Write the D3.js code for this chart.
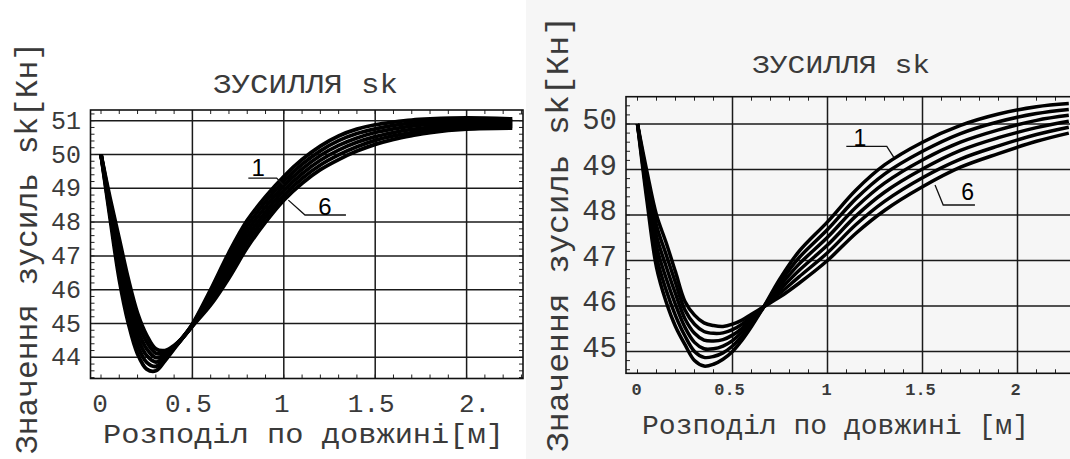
<!DOCTYPE html>
<html>
<head>
<meta charset="utf-8">
<script src="https://cdn.jsdelivr.net/npm/d3@7"></script>
<style>
  html, body { margin: 0; padding: 0; background: #fff; }
  svg { display: block; }
  text { font-family: "Liberation Mono", "DejaVu Sans Mono", monospace; fill: #3a3a3a; }
  text.num { font-family: "Liberation Sans", Arial, sans-serif; fill: #000; }
</style>
</head>
<body>
<div id="chart"></div>
<script>
// ---- data ----
const TITLE = "ЗУСИЛЛЯ sk"
const Y_LABEL = "Значення зусиль sk[Кн]"
const X_LABEL_A = "Розподіл по довжині[м]"
const X_LABEL_B = "Розподіл по довжині [м]"

// left chart: 6 curves sampled at leftX
const leftX = [0, 0.05, 0.1, 0.15, 0.2, 0.25, 0.3, 0.35, 0.4, 0.45, 0.5, 0.6, 0.7, 0.8, 0.9, 1.0, 1.1, 1.2, 1.3, 1.4, 1.5, 1.6, 1.7, 1.8, 2.0, 2.25]
const leftC1 = [50, 48.1, 46.3, 45.0, 44.1, 43.65, 43.6, 43.9, 44.25, 44.6, 44.98, 46.0, 47.1, 48.05, 48.75, 49.35, 49.85, 50.25, 50.55, 50.75, 50.88, 50.96, 51.02, 51.05, 51.08, 51.05]
const leftC2 = [50, 48.22, 46.54, 45.26, 44.34, 43.85, 43.73, 43.96, 44.27, 44.6, 44.97, 45.91, 46.95, 47.89, 48.6, 49.21, 49.71, 50.11, 50.41, 50.62, 50.76, 50.86, 50.93, 50.97, 51.01, 51.0]
const leftC3 = [50, 48.34, 46.78, 45.52, 44.58, 44.05, 43.86, 44.02, 44.29, 44.6, 44.96, 45.82, 46.8, 47.73, 48.45, 49.07, 49.57, 49.97, 50.27, 50.49, 50.65, 50.76, 50.84, 50.89, 50.95, 50.94]
const leftC4 = [50, 48.46, 47.02, 45.78, 44.82, 44.25, 43.99, 44.08, 44.31, 44.6, 44.94, 45.73, 46.65, 47.57, 48.3, 48.93, 49.43, 49.83, 50.13, 50.36, 50.53, 50.65, 50.74, 50.81, 50.88, 50.89]
const leftC5 = [50, 48.58, 47.26, 46.04, 45.06, 44.45, 44.12, 44.14, 44.33, 44.6, 44.93, 45.64, 46.5, 47.41, 48.15, 48.79, 49.29, 49.69, 49.99, 50.23, 50.42, 50.55, 50.65, 50.73, 50.82, 50.83]
const leftC6 = [50, 48.7, 47.5, 46.3, 45.3, 44.65, 44.25, 44.2, 44.35, 44.6, 44.92, 45.55, 46.35, 47.25, 48.0, 48.65, 49.15, 49.55, 49.85, 50.1, 50.3, 50.45, 50.56, 50.65, 50.75, 50.78]

// right chart: 6 curves sampled at rightX
const rightX = [0, 0.05, 0.1, 0.15, 0.2, 0.25, 0.3, 0.35, 0.4, 0.45, 0.5, 0.55, 0.6, 0.66, 0.75, 0.85, 1.0, 1.15, 1.3, 1.5, 1.7, 1.9, 2.1, 2.27]
const rightC1 = [50, 48.3, 46.85, 46.1, 45.55, 45.15, 44.8, 44.68, 44.72, 44.83, 45.0, 45.25, 45.55, 45.95, 46.6, 47.2, 47.85, 48.55, 49.1, 49.6, 49.97, 50.22, 50.38, 50.45]
const rightC2 = [50, 48.43, 47.08, 46.36, 45.79, 45.34, 45.0, 44.87, 44.89, 44.97, 45.12, 45.34, 45.6, 45.95, 46.52, 47.06, 47.68, 48.36, 48.9, 49.4, 49.79, 50.05, 50.23, 50.32]
const rightC3 = [50, 48.56, 47.31, 46.62, 46.03, 45.53, 45.2, 45.06, 45.06, 45.12, 45.24, 45.43, 45.66, 45.96, 46.44, 46.92, 47.51, 48.17, 48.7, 49.21, 49.6, 49.87, 50.08, 50.19]
const rightC4 = [50, 48.69, 47.54, 46.88, 46.27, 45.72, 45.4, 45.25, 45.23, 45.26, 45.36, 45.51, 45.71, 45.96, 46.36, 46.78, 47.34, 47.98, 48.5, 49.01, 49.42, 49.7, 49.92, 50.06]
const rightC5 = [50, 48.82, 47.77, 47.14, 46.51, 45.91, 45.6, 45.44, 45.4, 45.41, 45.48, 45.6, 45.77, 45.97, 46.28, 46.64, 47.17, 47.79, 48.3, 48.82, 49.23, 49.52, 49.77, 49.93]
const rightC6 = [50, 48.95, 48.0, 47.4, 46.75, 46.1, 45.8, 45.63, 45.57, 45.55, 45.6, 45.69, 45.82, 45.97, 46.2, 46.5, 47.0, 47.6, 48.1, 48.62, 49.05, 49.35, 49.62, 49.8]

const leftYTicks = [44, 45, 46, 47, 48, 49, 50, 51]
const rightYTicks = [45, 46, 47, 48, 49, 50]
const xTicks = [0, 0.5, 1, 1.5, 2]
const leftXTickLabels = ["0", "0.5", "1", "1.5", "2."]
const rightXTickLabels = ["0", "0.5", "1", "1.5", "2"]

// curve labels with their leader lines, in data units
const leftNotes = [
  {text: "1", at: [0.86, 49.35], path: [[0.806, 49.3], [0.961, 49.3], [0.997, 49.1]]},
  {text: "6", at: [1.225, 48.2], path: [[1.34, 48.21], [1.116, 48.21], [1.025, 48.65]]}
]
const rightNotes = [
  {text: "1", at: [1.171, 49.52], path: [[1.099, 49.51], [1.312, 49.51], [1.35, 49.26]]},
  {text: "6", at: [1.737, 48.33], path: [[1.776, 48.22], [1.609, 48.22], [1.566, 48.66]]}
]

const W = 1070, H = 459

const svg = d3.select("#chart").append("svg")
  .attr("width", W)
  .attr("height", H)

// right picture has a slightly gray paper
svg.append("rect")
  .attr("x", 526).attr("y", 0)
  .attr("width", W - 526).attr("height", H)
  .attr("fill", "#f6f6f6")

function drawPanel(cfg, id) {
  const g = svg.append("g")
  const f = cfg.frame

  const x = d3.scaleLinear().domain([0, 2]).range(cfg.xRange)
  const y = d3.scaleLinear().domain(cfg.yDomain).range(cfg.yRange)

  // clip for curves
  svg.append("clipPath").attr("id", "clip" + id)
    .append("rect")
    .attr("x", f.left).attr("y", f.top)
    .attr("width", f.right - f.left).attr("height", f.bottom - f.top)

  // grid
  g.selectAll(".gx").data(xTicks.filter(d => d > 0))
    .enter().append("line")
    .attr("x1", d => x(d)).attr("x2", d => x(d))
    .attr("y1", f.top).attr("y2", f.bottom)
    .attr("stroke", "#1a1a1a").attr("stroke-width", cfg.gridW)

  g.selectAll(".gy").data(cfg.yTicks)
    .enter().append("line")
    .attr("x1", f.left).attr("x2", f.right)
    .attr("y1", d => y(d)).attr("y2", d => y(d))
    .attr("stroke", "#1a1a1a").attr("stroke-width", cfg.gridW)

  // minor ticks inside the frame
  const x0 = x.invert(f.left), x1 = x.invert(f.right)
  const xMinor = d3.range(Math.ceil(x0 * 10), Math.floor(x1 * 10) + 1).map(d => d / 10)
  const y0 = y.invert(f.bottom), y1 = y.invert(f.top)
  const yMinor = d3.range(Math.ceil(y0 * 5), Math.floor(y1 * 5) + 1).map(d => d / 5)
  const tk = 4
  xMinor.forEach(d => {
    g.append("line").attr("x1", x(d)).attr("x2", x(d)).attr("y1", f.top).attr("y2", f.top + tk)
      .attr("stroke", "#222").attr("stroke-width", 1)
    g.append("line").attr("x1", x(d)).attr("x2", x(d)).attr("y1", f.bottom).attr("y2", f.bottom - tk)
      .attr("stroke", "#222").attr("stroke-width", 1)
  })
  yMinor.forEach(d => {
    g.append("line").attr("x1", f.left).attr("x2", f.left + tk).attr("y1", y(d)).attr("y2", y(d))
      .attr("stroke", "#222").attr("stroke-width", 1)
    g.append("line").attr("x1", f.right).attr("x2", f.right - tk).attr("y1", y(d)).attr("y2", y(d))
      .attr("stroke", "#222").attr("stroke-width", 1)
  })

  // frame
  g.append("rect")
    .attr("x", f.left).attr("y", f.top)
    .attr("width", f.right - f.left).attr("height", f.bottom - f.top)
    .attr("fill", "none").attr("stroke", "#111").attr("stroke-width", cfg.frameW)

  // curves
  const line = d3.line()
    .x(d => x(d[0]))
    .y(d => y(d[1]))
    .curve(d3.curveCatmullRom.alpha(0.5))

  g.append("g").attr("clip-path", `url(#clip${id})`)
    .selectAll("path")
    .data(cfg.curves)
    .enter().append("path")
    .attr("d", c => line(cfg.xs.map((v, i) => [v, c[i]])))
    .attr("fill", "none")
    .attr("stroke", "#000")
    .attr("stroke-width", cfg.curveW)
    .attr("stroke-linejoin", "round")

  // curve notes
  cfg.notes.forEach(n => {
    g.append("path")
      .attr("d", d3.line().x(p => x(p[0])).y(p => y(p[1]))(n.path))
      .attr("fill", "none").attr("stroke", "#111").attr("stroke-width", 1.3)
    g.append("text").attr("class", "num")
      .attr("x", x(n.at[0])).attr("y", y(n.at[1]))
      .attr("text-anchor", "middle")
      .attr("font-size", cfg.noteSize)
      .text(n.text)
  })

  // y tick labels
  g.selectAll(".yl").data(cfg.yTicks)
    .enter().append("text")
    .attr("x", cfg.yTickX)
    .attr("y", d => y(d) + cfg.yTickDy)
    .attr("text-anchor", "end")
    .attr("font-size", cfg.yTickSize)
    .text(d => d)

  // x tick labels
  g.selectAll(".xl").data(xTicks)
    .enter().append("text")
    .attr("x", (d, i) => x(d) + cfg.xTickDx[i])
    .attr("y", cfg.xTickY)
    .attr("text-anchor", "middle")
    .attr("font-size", cfg.xTickSize)
    .attr("font-weight", cfg.xTickWeight)
    .text((d, i) => cfg.xTickLabels[i])

  // title
  g.append("text")
    .attr("x", cfg.title.x).attr("y", cfg.title.y)
    .attr("font-size", cfg.title.size)
    .attr("textLength", cfg.title.len)
    .attr("lengthAdjust", "spacingAndGlyphs")
    .text(TITLE)

  // x label
  g.append("text")
    .attr("x", cfg.xLabel.x).attr("y", cfg.xLabel.y)
    .attr("font-size", cfg.xLabel.size)
    .attr("textLength", cfg.xLabel.len)
    .attr("lengthAdjust", "spacingAndGlyphs")
    .text(cfg.xLabel.text)

  // y label
  g.append("text")
    .attr("transform", `translate(${cfg.yLabel.x}, ${cfg.yLabel.y}) rotate(-90)`)
    .attr("text-anchor", "middle")
    .attr("font-size", cfg.yLabel.size)
    .attr("textLength", cfg.yLabel.len)
    .attr("lengthAdjust", "spacingAndGlyphs")
    .text(Y_LABEL)
}

drawPanel({
  frame: {left: 90.5, right: 523, top: 110, bottom: 378.5},
  xRange: [101, 466.6],
  yDomain: [44, 51], yRange: [357.3, 120.7],
  yTicks: leftYTicks,
  xs: leftX,
  curves: [leftC1, leftC2, leftC3, leftC4, leftC5, leftC6],
  curveW: 3.8, gridW: 1.5, frameW: 1.6,
  notes: leftNotes, noteSize: 24,
  yTickX: 81, yTickDy: 8, yTickSize: 25,
  xTickY: 411.5, xTickSize: 26, xTickWeight: "normal",
  xTickDx: [-1, -4, -2, -4, 8],
  xTickLabels: leftXTickLabels,
  title: {x: 213, y: 93.3, size: 28, len: 185},
  xLabel: {x: 103, y: 443.3, size: 28, len: 401, text: X_LABEL_A},
  yLabel: {x: 36.5, y: 248, size: 31, len: 412}
}, "L")

drawPanel({
  frame: {left: 626, right: 1076, top: 96.7, bottom: 373.3},
  xRange: [637.5, 1017.5],
  yDomain: [45, 50], yRange: [351.5, 124],
  yTicks: rightYTicks,
  xs: rightX,
  curves: [rightC1, rightC2, rightC3, rightC4, rightC5, rightC6],
  curveW: 3.5, gridW: 1.5, frameW: 1.6,
  notes: rightNotes, noteSize: 23,
  yTickX: 617, yTickDy: 5, yTickSize: 29,
  xTickY: 395, xTickSize: 17, xTickWeight: "bold",
  xTickDx: [-1, -3, -1, -2, -2],
  xTickLabels: rightXTickLabels,
  title: {x: 752, y: 73.3, size: 26, len: 178},
  xLabel: {x: 642, y: 434, size: 27, len: 387, text: X_LABEL_B},
  yLabel: {x: 568, y: 234, size: 31, len: 436}
}, "R")
</script>
</body>
</html>
